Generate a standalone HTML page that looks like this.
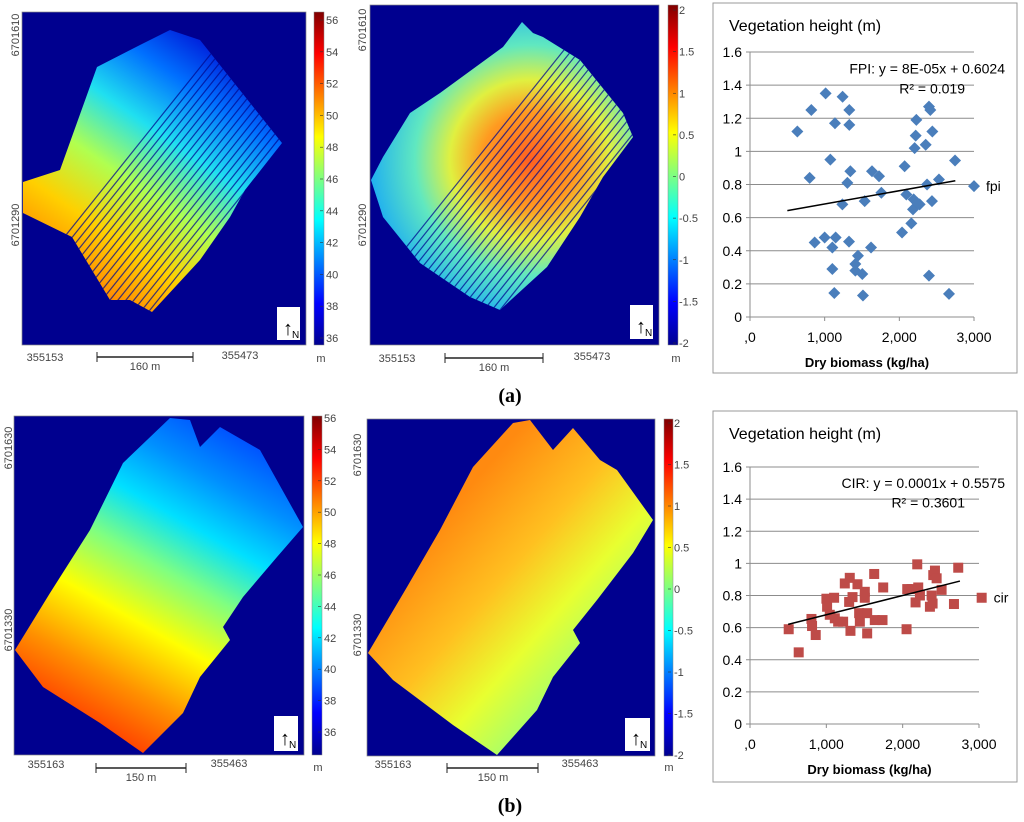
<!DOCTYPE html>
<html><head><meta charset="utf-8"><style>
body{margin:0;background:#fff;}
svg{display:block;font-family:"Liberation Sans",Arial,sans-serif;}
.ax{fill:#444;font-size:11px;}
.ch{fill:#000;font-family:"Liberation Sans",Arial,sans-serif;}
</style></head><body>
<svg id="fig" width="1024" height="822" viewBox="0 0 1024 822" xmlns="http://www.w3.org/2000/svg">
<defs>
<linearGradient id="jet" x1="0" y1="1" x2="0" y2="0">
<stop offset="0" stop-color="#00008f"/><stop offset="0.125" stop-color="#0000ff"/><stop offset="0.375" stop-color="#00ffff"/><stop offset="0.625" stop-color="#ffff00"/><stop offset="0.875" stop-color="#ff0000"/><stop offset="1" stop-color="#800000"/>
</linearGradient>
<linearGradient id="gA1" gradientUnits="userSpaceOnUse" x1="95" y1="300" x2="255" y2="70">
<stop offset="0" stop-color="#ff8000"/><stop offset="0.22" stop-color="#ffd000"/><stop offset="0.42" stop-color="#b0ff50"/><stop offset="0.62" stop-color="#20e0f0"/><stop offset="0.82" stop-color="#0070ff"/><stop offset="1" stop-color="#0018d8"/>
</linearGradient>
<radialGradient id="gA2" gradientUnits="userSpaceOnUse" cx="530" cy="160" r="160">
<stop offset="0" stop-color="#ff6020"/><stop offset="0.3" stop-color="#ff9a20"/><stop offset="0.5" stop-color="#e0f040"/><stop offset="0.72" stop-color="#60e8c0"/><stop offset="1" stop-color="#20b0f0"/>
</radialGradient>
<linearGradient id="gB1" gradientUnits="userSpaceOnUse" x1="80" y1="740" x2="250" y2="440">
<stop offset="0" stop-color="#ff2800"/><stop offset="0.2" stop-color="#ff9000"/><stop offset="0.38" stop-color="#ffff00"/><stop offset="0.55" stop-color="#80ff80"/><stop offset="0.7" stop-color="#00e0ff"/><stop offset="0.85" stop-color="#0090ff"/><stop offset="1" stop-color="#0050ff"/>
</linearGradient>
<linearGradient id="gB2" gradientUnits="userSpaceOnUse" x1="440" y1="520" x2="600" y2="660">
<stop offset="0" stop-color="#ff8a10"/><stop offset="0.4" stop-color="#ffc020"/><stop offset="0.7" stop-color="#e8ff30"/><stop offset="1" stop-color="#a0ff70"/>
</linearGradient>
<clipPath id="cA1"><polygon points="23,182 60,170 97,67 140,45 170,30 200,40 282,143 245,190 230,217 200,260 152,312 130,300 110,300 72,237 23,213"/></clipPath>
<clipPath id="cA2"><polygon points="371,180 383,157 410,113 440,93 503,47 522,22 533,33 543,37 580,60 623,113 633,137 603,177 580,217 547,267 500,310 470,297 420,263 383,217"/></clipPath>
</defs>

<g>
<rect x="22" y="12" width="284" height="333" fill="#00008f" stroke="#888" stroke-width="0.7"/>
<polygon points="23,182 60,170 97,67 140,45 170,30 200,40 282,143 245,190 230,217 200,260 152,312 130,300 110,300 72,237 23,213" fill="url(#gA1)"/>
<g clip-path="url(#cA1)" id="stA1" stroke="#000a90" stroke-width="1.2" opacity="0.75"></g>
<rect x="277" y="307" width="23" height="33" fill="#fff"/><text x="283" y="335" font-size="20">↑</text><text x="292" y="338" font-size="10">N</text>
<rect x="314" y="12" width="10" height="333" fill="url(#jet)" stroke="#888" stroke-width="0.5"/>
<g id="cbA1" class="ax"></g>
<text class="ax" x="45" y="361" text-anchor="middle">355153</text><text class="ax" x="240" y="359" text-anchor="middle">355473</text>
<line x1="97" y1="357" x2="193" y2="357" stroke="#222" stroke-width="1.5"/><line x1="97" y1="352" x2="97" y2="362" stroke="#222"/><line x1="193" y1="352" x2="193" y2="362" stroke="#222"/>
<text class="ax" x="145" y="370" text-anchor="middle">160 m</text><text class="ax" x="321" y="362" text-anchor="middle">m</text>
<text class="ax" transform="translate(19,35) rotate(-90)" text-anchor="middle">6701610</text>
<text class="ax" transform="translate(19,225) rotate(-90)" text-anchor="middle">6701290</text>
</g>

<g>
<rect x="370" y="5" width="289" height="340" fill="#00008f" stroke="#888" stroke-width="0.7"/>
<polygon points="371,180 383,157 410,113 440,93 503,47 522,22 533,33 543,37 580,60 623,113 633,137 603,177 580,217 547,267 500,310 470,297 420,263 383,217" fill="url(#gA2)"/>
<g clip-path="url(#cA2)" id="stA2" stroke="#000a90" stroke-width="1.2" opacity="0.75"></g>
<rect x="630" y="305" width="23" height="34" fill="#fff"/><text x="636" y="333" font-size="20">↑</text><text x="645" y="336" font-size="10">N</text>
<rect x="668" y="5" width="10" height="340" fill="url(#jet)" stroke="#888" stroke-width="0.5"/>
<g id="cbA2" class="ax"></g>
<text class="ax" x="397" y="362" text-anchor="middle">355153</text><text class="ax" x="592" y="360" text-anchor="middle">355473</text>
<line x1="445" y1="358" x2="543" y2="358" stroke="#222" stroke-width="1.5"/><line x1="445" y1="353" x2="445" y2="363" stroke="#222"/><line x1="543" y1="353" x2="543" y2="363" stroke="#222"/>
<text class="ax" x="494" y="371" text-anchor="middle">160 m</text><text class="ax" x="676" y="362" text-anchor="middle">m</text>
<text class="ax" transform="translate(366,30) rotate(-90)" text-anchor="middle">6701610</text>
<text class="ax" transform="translate(366,225) rotate(-90)" text-anchor="middle">6701290</text>
</g>

<g>
<rect x="14" y="416" width="290" height="339" fill="#00008f" stroke="#888" stroke-width="0.7"/>
<polygon points="15,650 50,593 90,530 123,463 170,418 190,420 200,447 220,427 260,450 303,527 277,557 243,597 223,627 230,640 200,677 183,713 143,753 100,723 43,687" fill="url(#gB1)"/>
<rect x="274" y="716" width="24" height="35" fill="#fff"/><text x="280" y="745" font-size="20">↑</text><text x="289" y="748" font-size="10">N</text>
<rect x="312" y="416" width="10" height="339" fill="url(#jet)" stroke="#888" stroke-width="0.5"/>
<g id="cbB1" class="ax"></g>
<text class="ax" x="46" y="768" text-anchor="middle">355163</text><text class="ax" x="229" y="767" text-anchor="middle">355463</text>
<line x1="96" y1="768" x2="186" y2="768" stroke="#222" stroke-width="1.5"/><line x1="96" y1="763" x2="96" y2="773" stroke="#222"/><line x1="186" y1="763" x2="186" y2="773" stroke="#222"/>
<text class="ax" x="141" y="781" text-anchor="middle">150 m</text><text class="ax" x="318" y="771" text-anchor="middle">m</text>
<text class="ax" transform="translate(12,448) rotate(-90)" text-anchor="middle">6701630</text>
<text class="ax" transform="translate(12,630) rotate(-90)" text-anchor="middle">6701330</text>
</g>

<g>
<rect x="367" y="419" width="288" height="337" fill="#00008f" stroke="#888" stroke-width="0.7"/>
<polygon points="368,653 407,587 440,530 473,467 513,423 530,420 553,450 573,428 600,460 617,470 653,520 633,553 597,600 573,630 580,643 553,677 537,710 497,755 453,725 393,680" fill="url(#gB2)"/>
<rect x="625" y="718" width="25" height="33" fill="#fff"/><text x="631" y="745" font-size="20">↑</text><text x="640" y="748" font-size="10">N</text>
<rect x="664" y="419" width="9" height="337" fill="url(#jet)" stroke="#888" stroke-width="0.5"/>
<g id="cbB2" class="ax"></g>
<text class="ax" x="393" y="768" text-anchor="middle">355163</text><text class="ax" x="580" y="767" text-anchor="middle">355463</text>
<line x1="447" y1="768" x2="538" y2="768" stroke="#222" stroke-width="1.5"/><line x1="447" y1="763" x2="447" y2="773" stroke="#222"/><line x1="538" y1="763" x2="538" y2="773" stroke="#222"/>
<text class="ax" x="493" y="781" text-anchor="middle">150 m</text><text class="ax" x="669" y="771" text-anchor="middle">m</text>
<text class="ax" transform="translate(361,455) rotate(-90)" text-anchor="middle">6701630</text>
<text class="ax" transform="translate(361,635) rotate(-90)" text-anchor="middle">6701330</text>
</g>

<text x="510" y="402" text-anchor="middle" font-family="Liberation Serif,serif" font-weight="bold" font-size="20">(a)</text>
<text x="510" y="812" text-anchor="middle" font-family="Liberation Serif,serif" font-weight="bold" font-size="20">(b)</text>

<g id="chartA"></g>
<g id="chartB"></g>
</svg>
<script>
const NS='http://www.w3.org/2000/svg';
const fpiX=[634,821,799,866,1013,1000,1076,1138,1147,1103,1103,1129,1237,1304,1344,1330,1330,1240,1326,1446,1411,1411,1504,1513,1536,1621,1634,1728,1759,2036,2071,2094,2161,2192,2183,2205,2219,2228,2237,2272,2353,2371,2397,2415,2397,2442,2437,2531,2746,2665,3000];
const fpiY=[1.12,1.25,0.84,0.45,1.35,0.48,0.95,1.17,0.48,0.42,0.29,0.145,0.68,0.81,0.88,1.25,1.16,1.33,0.455,0.37,0.32,0.28,0.26,0.13,0.70,0.42,0.88,0.85,0.75,0.51,0.91,0.74,0.565,0.71,0.65,1.02,1.095,1.19,0.69,0.68,1.04,0.80,1.27,1.25,0.25,1.12,0.70,0.83,0.945,0.14,0.79];
const cirX=[507,638,805,813,861,1001,1010,1045,1102,1111,1155,1242,1220,1307,1316,1299,1343,1408,1430,1439,1504,1504,1535,1535,1627,1635,1745,1736,2051,2060,2116,2169,2191,2204,2226,2357,2379,2392,2401,2423,2445,2510,2672,2728,3035];
const cirY=[0.59,0.446,0.654,0.61,0.554,0.78,0.73,0.68,0.786,0.658,0.637,0.875,0.637,0.91,0.58,0.76,0.79,0.87,0.69,0.637,0.823,0.786,0.69,0.564,0.934,0.647,0.85,0.647,0.59,0.84,0.84,0.757,0.994,0.85,0.80,0.73,0.80,0.75,0.927,0.955,0.907,0.835,0.747,0.973,0.786];
const fpiTrend=[0.00008,0.6024];
const cirTrend=[0.00012,0.56];
const trendRange=[500,2750];
const yTicks=['0','0.2','0.4','0.6','0.8','1','1.2','1.4','1.6'];
const xTicks=[',0','1,000','2,000','3,000'];
const cbElev=[36,38,40,42,44,46,48,50,52,54,56];
const cbDiff=['-2','-1.5','-1','-0.5','0','0.5','1','1.5','2'];

function mk(tag,attrs,parent,txt){const e=document.createElementNS(NS,tag);for(const k in attrs)e.setAttribute(k,attrs[k]);if(txt!==undefined)e.textContent=txt;parent.appendChild(e);return e;}

function colorbar(id,labels,x,yBottom,yTop){
  const g=document.getElementById(id);
  const n=labels.length;
  labels.forEach((l,i)=>{
    const y=yBottom-(yBottom-yTop)*i/(n-1);
    const t=mk('text',{x:x,y:y+4},g,String(l));
    
    
    mk('line',{x1:x-6,y1:y,x2:x-3,y2:y,stroke:'#333','stroke-width':0.6},g);
  });
}
colorbar('cbA1',cbElev,326,338,20);
colorbar('cbA2',cbDiff,679,343,10);
colorbar('cbB1',cbElev,324,732,418);
colorbar('cbB2',cbDiff,674,755,423);

function stripes(id,x0,x1,yb,dy){
  const g=document.getElementById(id);
  for(let x=x0;x<=x1;x+=8){mk('line',{x1:x,y1:yb,x2:x+dy*0.8,y2:yb-dy},g);}
}
stripes('stA1',-10,134,330,300);
stripes('stA2',340,485,330,300);

function chart(id,o){
  const g=document.getElementById(id);
  const X=v=>o.x0+(v/3000)*(o.x3-o.x0);
  const Y=v=>o.y0-(v/1.6)*(o.y0-o.y16);
  const box=mk('rect',{x:o.bx,y:o.by,width:o.bw,height:o.bh,fill:'#fff',stroke:'#999','stroke-width':1},g);
  
  
  yTicks.forEach((t,i)=>{
    const v=i*0.2,y=Y(v);
    const gl=mk('line',{x1:o.x0,y1:y,x2:o.gEnd,y2:y,stroke:'#8c8c8c','stroke-width':1},g);
    
    
    mk('line',{x1:o.x0-4,y1:y,x2:o.x0,y2:y,stroke:'#8c8c8c'},g);
    const tx=mk('text',{x:o.x0-8,y:y+5,'text-anchor':'end','font-size':14,class:'ch'},g,t);
    
    
  });
  mk('line',{x1:o.x0,y1:o.y16,x2:o.x0,y2:o.y0+4,stroke:'#8c8c8c'},g);
  xTicks.forEach((t,i)=>{
    const x=X(i*1000);
    mk('line',{x1:x,y1:o.y0,x2:x,y2:o.y0+4,stroke:'#8c8c8c'},g);
    const tx=mk('text',{x:x,y:o.y0+25,'text-anchor':'middle','font-size':14,class:'ch'},g,t);
    
    
  });
  const tt=mk('text',{x:o.bx+16,y:o.by+28,'font-size':16,class:'ch'},g,'Vegetation height (m)');
  
  
  const xt=mk('text',{x:(o.x0+o.gEnd)/2+5,y:o.y0+50,'text-anchor':'middle','font-size':13,'font-weight':'bold',class:'ch'},g,'Dry biomass  (kg/ha)');
  
  
  const e1=mk('text',{x:o.bx+o.bw-12,y:Y(1.5)+5,'text-anchor':'end','font-size':14,class:'ch'},g,o.eq);
  
  
  const e2=mk('text',{x:o.bx+o.bw-52,y:Y(1.38)+5,'text-anchor':'end','font-size':14,class:'ch'},g,o.r2);
  
  
  o.xs.forEach((xv,i)=>{
    const cx=X(xv),cy=Y(o.ys[i]);let m;
    if(o.shape==='d'){m=mk('polygon',{points:`${cx},${cy-6} ${cx+6},${cy} ${cx},${cy+6} ${cx-6},${cy}`,fill:'#4a7ebb'},g);}
    else{m=mk('rect',{x:cx-5,y:cy-5,width:10,height:10,fill:'#be4b48'},g);}
    
    
  });
  const tr=o.trend;
  const tl=mk('line',{x1:X(trendRange[0]),y1:Y(tr[0]*trendRange[0]+tr[1]),x2:X(trendRange[1]),y2:Y(tr[0]*trendRange[1]+tr[1]),stroke:'#000','stroke-width':1.5},g);
  
  
  const lx=o.xs[o.xs.length-1],ly=o.ys[o.ys.length-1];
  const lg=mk('text',{x:X(lx)+12,y:Y(ly)+5,'font-size':14,class:'ch'},g,o.name);
  
  
}
chart('chartA',{bx:713,by:3,bw:304,bh:370,x0:750,x3:974,gEnd:974,y0:317,y16:52,xs:fpiX,ys:fpiY,trend:fpiTrend,shape:'d',eq:'FPI: y = 8E-05x + 0.6024',r2:'R² = 0.019',name:'fpi'});
chart('chartB',{bx:713,by:411,bw:304,bh:371,x0:750,x3:979,gEnd:979,y0:724,y16:467,xs:cirX,ys:cirY,trend:cirTrend,shape:'s',eq:'CIR: y = 0.0001x + 0.5575',r2:'R² = 0.3601',name:'cir'});
</script>
</body></html>
